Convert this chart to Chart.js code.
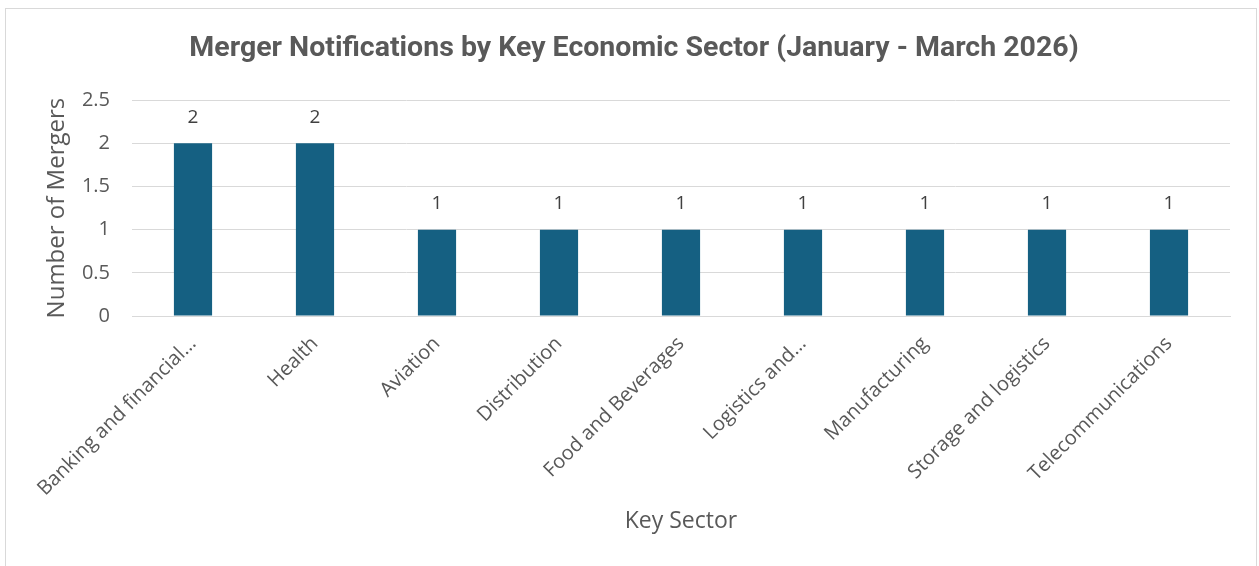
<!DOCTYPE html>
<html lang="en">

<head>
    <meta charset="UTF-8">
    <title>Merger Notifications</title>
    <style>
        body { margin: 0; background: #fff; }
        #frame { position: absolute; left: 5px; top: 8px; width: 1250px; height: 600px; border: 1px solid #d9d9d9; }
        #wrap { position: absolute; left: 0; top: 0; width: 1259px; height: 566px; }
    </style>
</head>

<body>
    <div id="frame"></div>
    <div id="wrap"><canvas id="grafica" width="1259" height="566"></canvas></div>

    <script src="https://cdn.jsdelivr.net/npm/chart.js@4.4.1/dist/chart.umd.min.js"></script>
    <script>
        // datos del grafico
        const sectors = ['Banking and financial…', 'Health', 'Aviation', 'Distribution', 'Food and Beverages',
            'Logistics and…', 'Manufacturing', 'Storage and logistics', 'Telecommunications'];
        const mergers = [2, 2, 1, 1, 1, 1, 1, 1, 1];
        const yTicks = [0, 0.5, 1, 1.5, 2, 2.5];

        const grey = '#595959';

        // etiquetas de valor encima de cada barra
        const valueLabels = {
            id: 'valueLabels',
            afterDatasetsDraw(chart) {
                const ctx = chart.ctx;
                const meta = chart.getDatasetMeta(0);
                ctx.save();
                ctx.font = '19px "Open Sans"';
                ctx.fillStyle = '#404040';
                ctx.textAlign = 'center';
                ctx.textBaseline = 'middle';
                meta.data.forEach((bar, i) => {
                    ctx.fillText(String(mergers[i]), bar.x, bar.y - 26);
                });
                ctx.restore();
            }
        };

        const ctx = document.getElementById('grafica').getContext('2d');
        const grafica = new Chart(ctx, {
            type: 'bar',
            data: {
                labels: sectors,
                datasets: [{
                    label: 'Number of Mergers',
                    data: mergers,
                    backgroundColor: '#156082',
                    categoryPercentage: 1,
                    barPercentage: 0.313
                }]
            },
            plugins: [valueLabels],
            options: {
                responsive: false,
                animation: false,
                layout: { padding: { top: 0, right: 0, bottom: 0, left: 9 } },
                plugins: {
                    legend: { display: false },
                    tooltip: { enabled: false },
                    title: {
                        display: true,
                        text: 'Merger Notifications by Key Economic Sector (January - March 2026)',
                        color: grey,
                        font: { family: 'Roboto', size: 28.5, weight: 'bold' },
                        padding: { top: 32, bottom: 34 }
                    }
                },
                scales: {
                    y: {
                        min: 0,
                        max: 2.5,
                        afterBuildTicks: (axis) => { axis.ticks = yTicks.map(v => ({ value: v })); },
                        afterFit: (axis) => { axis.width = 123; },
                        border: { display: false },
                        grid: { color: '#d9d9d9', drawTicks: false },
                        ticks: {
                            color: grey,
                            padding: 22,
                            font: { family: 'Open Sans', size: 20 },
                            callback: (v) => String(v)
                        },
                        title: {
                            display: true,
                            text: 'Number of Mergers',
                            color: grey,
                            font: { family: 'Open Sans', size: 24 },
                            padding: { top: 34, bottom: 0 }
                        }
                    },
                    // eje vacio a la derecha, solo para dejar margen
                    yRight: {
                        position: 'right',
                        afterFit: (axis) => { axis.width = 29; },
                        border: { display: false },
                        grid: { display: false },
                        ticks: { display: false }
                    },
                    x: {
                        afterFit: (axis) => { axis.height = 250; },
                        border: { color: '#d9d9d9' },
                        grid: { display: false },
                        ticks: {
                            color: grey,
                            autoSkip: false,
                            minRotation: 45,
                            maxRotation: 45,
                            padding: 8,
                            font: { family: 'Open Sans', size: 20 }
                        },
                        title: {
                            display: true,
                            text: 'Key Sector',
                            color: grey,
                            font: { family: 'Open Sans', size: 23 },
                            padding: { top: 0, bottom: 31 }
                        }
                    }
                }
            }
        });
    </script>
</body>

</html>
